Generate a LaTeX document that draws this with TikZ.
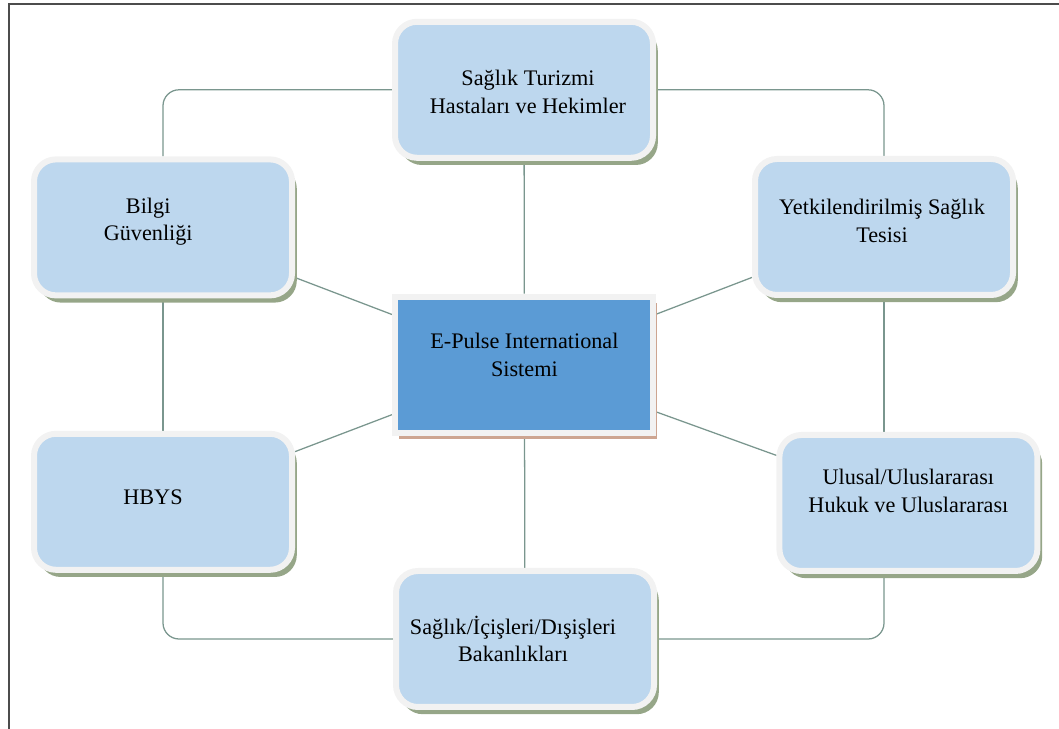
\documentclass[tikz,border=0pt]{standalone}
\usepackage{fontspec}
\setmainfont{Liberation Serif}
\newfontfamily\epfont{Liberation Serif}
\usepackage{tikz}
\usetikzlibrary{positioning,calc,shadows,backgrounds}
\definecolor{epBoxBlue}   {RGB}{189, 215, 238}
\definecolor{epMidBlue}   {RGB}{ 91, 155, 213}
\definecolor{epRim}       {RGB}{242, 242, 242}
\definecolor{epShadowGrn} {RGB}{150, 166, 136}
\definecolor{epShadowBrn} {RGB}{205, 165, 145}
\definecolor{epLink}      {RGB}{122, 150, 142}

\begin{document}
\begin{tikzpicture}[
    box/.style={draw=epRim,fill=epBoxBlue,line width=0.15cm,
                rounded corners=0.55cm,minimum width=6.45cm,minimum height=3.4cm,
                drop shadow={shadow xshift=0.12cm,shadow yshift=-0.18cm,
                             fill=epShadowGrn,opacity=1}},
    midbox/.style={draw=epRim,fill=epMidBlue,line width=0.15cm,
                minimum width=6.45cm,minimum height=3.4cm,
                drop shadow={shadow xshift=0.1cm,shadow yshift=-0.17cm,
                             fill=epShadowBrn,opacity=1}},
    lbl/.style={font=\epfont\fontsize{15.8}{19.5}\selectfont,align=center,inner sep=0pt},
    link/.style={draw=epLink,line width=0.9pt},
  ]
    \useasboundingbox (0,0) rectangle (26.475,18.225);

    % ── cerceve ───────────────────────────────────────────
    \draw[gray!60!black,line width=0.9pt] (0.225,0) -- (0.225,18.125) -- (26.475,18.125);

    % ── kutular ───────────────────────────────────────────
    \node[box] (turizm) at (13.1,15.98) {};
    \node[box] (bilgi) at (4.075,12.54) {};
    \node[box] (tesis) at (22.1,12.55) {};
    \node[midbox] (epulse) at (13.11,9.11) {};
    \node[box] (hbys) at (4.075,5.68) {};
    \node[box] (hukuk) at (22.71,5.65) {};
    \node[box] (bakan) at (13.125,2.25) {};

    % ── yazilar ───────────────────────────────────────────
    \node[lbl] (turizmT) at ($(turizm)+(0.1,-0.05)$) {Sağlık Turizmi\\Hastaları ve Hekimler};
    \node[lbl] (bilgiT) at ($(bilgi)+(-0.37,0.14)$) {Bilgi\\Güvenliği};
    \node[lbl] (tesisT) at ($(tesis)+(-0.05,0.15)$) {Yetkilendirilmiş Sağlık\\Tesisi};
    \node[lbl] (epulseT) at ($(epulse)+(0,0.24)$) {E-Pulse International\\Sistemi};
    \node[lbl] (hbysT) at ($(hbys)+(-0.25,0.11)$) {HBYS};
    \node[lbl] (hukukT) at ($(hukuk)+(0,0.3)$) {Ulusal/Uluslararası\\Hukuk ve Uluslararası};
    \node[lbl] (bakanT) at ($(bakan)+(-0.3,0)$) {Sağlık/İçişleri/Dışişleri\\Bakanlıkları};

    % ── baglantilar ───────────────────────────────────────
    \begin{scope}[on background layer]
      \draw[link,rounded corners=0.4cm] (turizm) -| (bilgi);
      \draw[link,rounded corners=0.4cm] (turizm) -| (tesis);
      \draw[link] (bilgi) -- (hbys);
      \coordinate (tesisAlt) at (tesis.south |- hukuk.north);
      \draw[link] (tesis) -- (tesisAlt);
      \coordinate (hukukAlt) at (tesis.south |- hukuk.south);
      \draw[link,rounded corners=0.4cm] (hukukAlt) |- (bakan);
      \draw[link,rounded corners=0.4cm] (hbys) |- (bakan);
      \draw[link] (turizm) -- (epulse);
      \draw[link] (epulse) -- (bakan);
      \draw[link] (bilgi) -- (epulse);
      \draw[link] (tesis) -- (epulse);
      \draw[link] (hbys) -- (epulse);
      \draw[link] (hukuk) -- (epulse);
    \end{scope}

\end{tikzpicture}
\end{document}
